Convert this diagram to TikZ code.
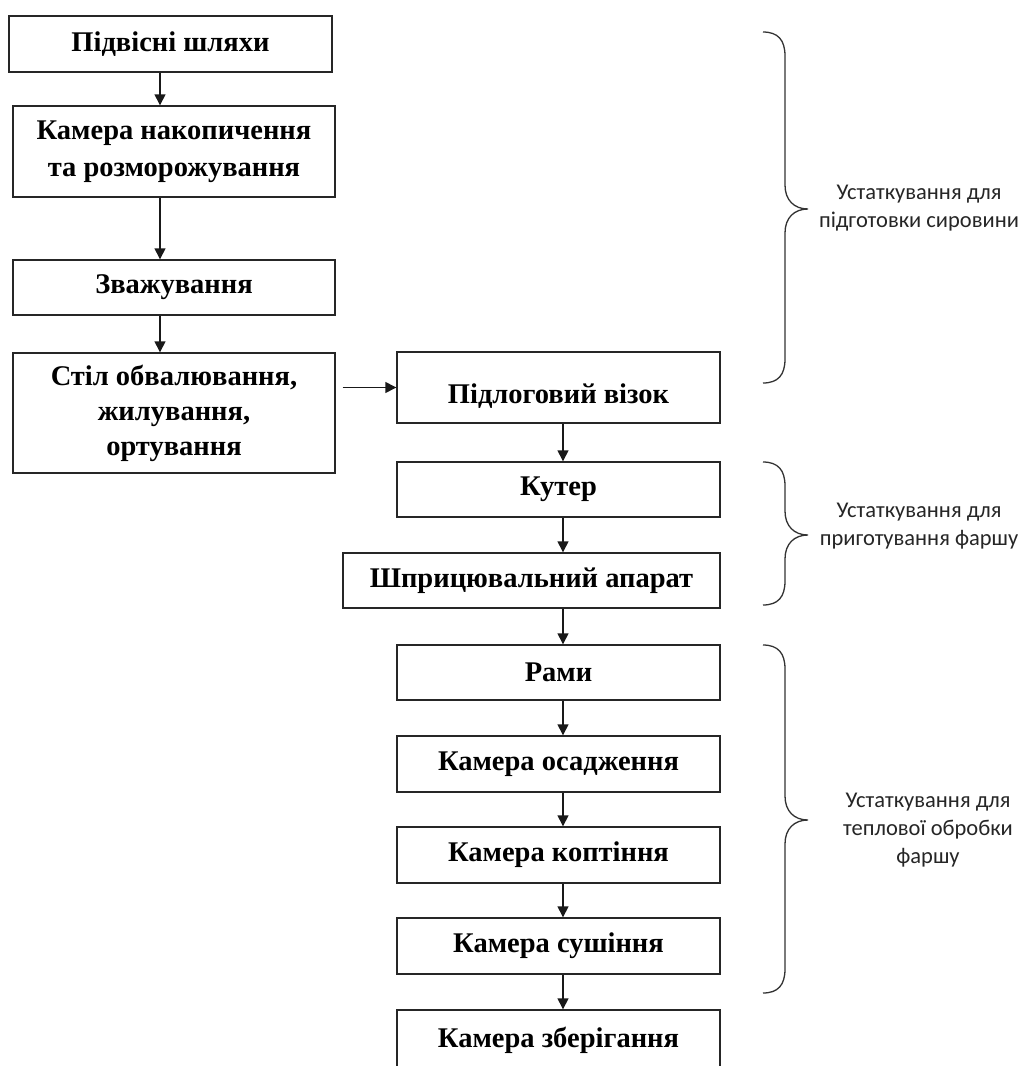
\documentclass[tikz,border=0pt]{standalone}
\usepackage{fontspec}
\setmainfont{Liberation Serif}
\newfontfamily\bracefont{Carlito}
\usetikzlibrary{arrows.meta,calc}
\newcommand\mybrace[3]{%
  \draw[brace] (763,#1) .. controls (778,#1) and (785,#1+8) .. (785,#1+24)
    -- (785,#2-24) .. controls (785,#2-9) and (794,#2) .. (808,#2)
    .. controls (794,#2) and (785,#2+9) .. (785,#2+24)
    -- (785,#3-24) .. controls (785,#3-8) and (778,#3) .. (763,#3);}
\begin{document}
\begin{tikzpicture}[x=1pt,y=-1pt,
  box/.style={draw=black!85,line width=1.4pt,rectangle,inner sep=0pt,align=center,
    font=\fontsize{28.5}{37}\selectfont\bfseries},
  arr/.style={line width=1.4pt,draw=black!90,-{Triangle[width=11pt,length=11pt]}},
  brace/.style={line width=1.3pt,draw=black!80},
  btext/.style={align=center,font=\bracefont\fontsize{22.5}{28}\selectfont,text=black!85}]
\useasboundingbox (0,0) rectangle (1021,1066);
\fill[white] (0,0) rectangle (1021,1066);
\clip (0,0) rectangle (1021,1066);
% left column
\node[box,minimum width=323pt,minimum height=56pt] (b1) at (170.5,44) {Підвісні шляхи};
\node[box,minimum width=322pt,minimum height=91pt] (b2) at (174,151.5) {Камера накопичення\\та розморожування};
\node[box,minimum width=322pt,minimum height=55pt] (b3) at (174,287.5) {Зважування};
\node[box,minimum width=322pt,minimum height=120pt,font=\fontsize{28.5}{35}\selectfont\bfseries] (b4) at (174,413) {Стіл обвалювання,\\жилування,\\ортування};
% right column
\node[box,minimum width=323pt,minimum height=71pt] (b5) at (558.5,387.5) {\mbox{}\\Підлоговий візок};
\node[box,minimum width=323pt,minimum height=55pt] (b6) at (558.5,489.5) {Кутер};
\node[box,minimum width=377pt,minimum height=55pt] (b7) at (531.5,580.5) {Шприцювальний апарат};
\node[box,minimum width=323pt,minimum height=55pt] (b8) at (558.5,672.5) {Рами};
\node[box,minimum width=323pt,minimum height=56pt] (b9) at (558.5,764) {Камера осадження};
\node[box,minimum width=323pt,minimum height=56pt] (b10) at (558.5,855) {Камера коптіння};
\node[box,minimum width=323pt,minimum height=56pt] (b11) at (558.5,946) {Камера сушіння};
\node[box,minimum width=323pt,minimum height=60pt] (b12) at (558.5,1040) {Камера зберігання};
% arrows
\coordinate (ax) at (160,0);
\coordinate (bx) at (563,0);
\draw[arr] (b1.south -| ax) -- (b2.north -| ax);
\draw[arr] (b2.south -| ax) -- (b3.north -| ax);
\draw[arr] (b3.south -| ax) -- (b4.north -| ax);
\draw[arr] ($(b4.east |- b5.west)+(7,0)$) -- (b5.west);
\draw[arr] (b5.south -| bx) -- (b6.north -| bx);
\draw[arr] (b6.south -| bx) -- (b7.north -| bx);
\draw[arr] (b7.south -| bx) -- (b8.north -| bx);
\draw[arr] (b8.south -| bx) -- (b9.north -| bx);
\draw[arr] (b9.south -| bx) -- (b10.north -| bx);
\draw[arr] (b10.south -| bx) -- (b11.north -| bx);
\draw[arr] (b11.south -| bx) -- (b12.north -| bx);
% braces
\mybrace{32}{209}{383}
\mybrace{462}{535}{605}
\mybrace{645}{820}{993}
\node[btext] (t1) at (919,208) {Устаткування для\\підготовки сировини};
\node[btext] (t2) at (919,526) {Устаткування для\\приготування фаршу};
\node[btext] (t3) at (928,830) {Устаткування для\\теплової обробки\\фаршу};
\end{tikzpicture}
\end{document}
